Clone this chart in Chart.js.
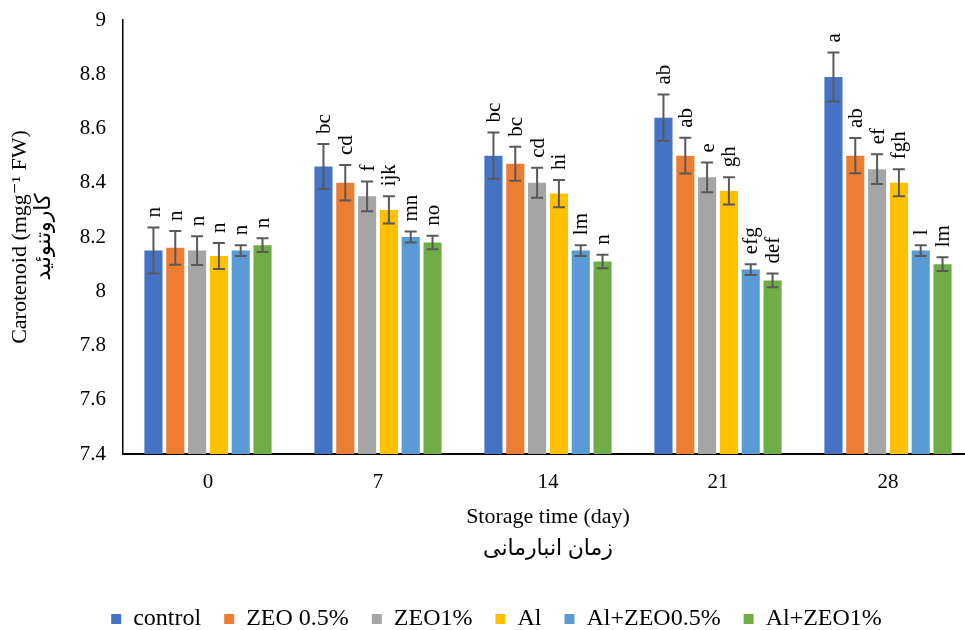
<!DOCTYPE html>
<html>
<head>
<meta charset="utf-8">
<script src="https://cdn.jsdelivr.net/npm/chart.js@4.4.1/dist/chart.umd.min.js"></script>
<style>
  html, body { margin: 0; padding: 0; background: #fff; overflow: hidden; }
  #wrap { width: 973px; height: 630px; }
</style>
</head>
<body>
<div id="wrap"><canvas id="carotenoidChart" width="973" height="630"></canvas></div>
<script>
// storage days
const categories = ["0", "7", "14", "21", "28"];
const yTicks = [7.4, 7.6, 7.8, 8, 8.2, 8.4, 8.6, 8.8, 9];

// mean carotenoid per treatment
const control = [8.15, 8.46, 8.50, 8.64, 8.79];
const zeo05 = [8.16, 8.40, 8.47, 8.50, 8.50];
const zeo1 = [8.15, 8.35, 8.40, 8.42, 8.45];
const al = [8.13, 8.30, 8.36, 8.37, 8.40];
const alZeo05 = [8.15, 8.20, 8.15, 8.08, 8.15];
const alZeo1 = [8.17, 8.18, 8.11, 8.04, 8.10];

// error bars (+/-)
const controlErr = [0.085, 0.083, 0.085, 0.085, 0.09];
const zeo05Err = [0.062, 0.065, 0.063, 0.066, 0.065];
const zeo1Err = [0.053, 0.055, 0.055, 0.055, 0.055];
const alErr = [0.048, 0.05, 0.05, 0.05, 0.05];
const alZeo05Err = [0.02, 0.02, 0.02, 0.02, 0.02];
const alZeo1Err = [0.025, 0.025, 0.025, 0.025, 0.025];

// significance letters
const controlLetters = ["n", "bc", "bc", "ab", "a"];
const zeo05Letters = ["n", "cd", "bc", "ab", "ab"];
const zeo1Letters = ["n", "f", "cd", "e", "ef"];
const alLetters = ["n", "ijk", "hi", "gh", "fgh"];
const alZeo05Letters = ["n", "mn", "lm", "efg", "l"];
const alZeo1Letters = ["n", "no", "n", "def", "lm"];

const serif = "'Liberation Serif', 'Times New Roman', 'DejaVu Sans', serif";

function makeSet(label, data, err, letters, color) {
  return {
    label: label,
    data: data,
    errors: err,
    letters: letters,
    backgroundColor: color,
    borderWidth: 0,
    barPercentage: 0.83,
    categoryPercentage: 0.77,
  };
}

// draws the error bars and the rotated letters above each bar
const errorBarPlugin = {
  id: "errorBars",
  afterDatasetsDraw(chart) {
    const ctx = chart.ctx;
    const yScale = chart.scales.y;
    chart.data.datasets.forEach((ds, i) => {
      const meta = chart.getDatasetMeta(i);
      meta.data.forEach((bar, j) => {
        const v = ds.data[j];
        const e = ds.errors[j];
        const top = yScale.getPixelForValue(v + e);
        const bottom = yScale.getPixelForValue(v - e);
        const x = bar.x;
        ctx.save();
        ctx.strokeStyle = "#595959";
        ctx.lineWidth = 2;
        ctx.beginPath();
        ctx.moveTo(x, top);
        ctx.lineTo(x, bottom);
        ctx.moveTo(x - 6, top);
        ctx.lineTo(x + 6, top);
        ctx.moveTo(x - 6, bottom);
        ctx.lineTo(x + 6, bottom);
        ctx.stroke();

        ctx.translate(x + 1, top - 10);
        ctx.rotate(-Math.PI / 2);
        ctx.fillStyle = "#000";
        ctx.font = "21px " + serif;
        ctx.textAlign = "left";
        ctx.textBaseline = "middle";
        ctx.fillText(ds.letters[j], 0, 0);
        ctx.restore();
      });
    });
  },
};

// nudges the legend right so it sits like in the original
const legendShift = {
  id: "legendShift",
  afterLayout(chart) {
    if (chart.legend) {
      chart.legend.left += 10;
      chart.legend.right += 10;
    }
  },
};

const ctx = document.getElementById("carotenoidChart").getContext("2d");
new Chart(ctx, {
  type: "bar",
  data: {
    labels: categories,
    datasets: [
      makeSet("control", control, controlErr, controlLetters, "#4472C4"),
      makeSet("ZEO 0.5%", zeo05, zeo05Err, zeo05Letters, "#ED7D31"),
      makeSet("ZEO1%", zeo1, zeo1Err, zeo1Letters, "#A5A5A5"),
      makeSet("Al", al, alErr, alLetters, "#FFC000"),
      makeSet("Al+ZEO0.5%", alZeo05, alZeo05Err, alZeo05Letters, "#5B9BD5"),
      makeSet("Al+ZEO1%", alZeo1, alZeo1Err, alZeo1Letters, "#70AD47"),
    ],
  },
  options: {
    responsive: false,
    animation: false,
    layout: { padding: { top: 0, left: 0, right: 0, bottom: -11 } },
    plugins: {
      tooltip: { enabled: false },
      legend: {
        position: "bottom",
        labels: {
          boxWidth: 10,
          boxHeight: 10,
          padding: 23,
          color: "#000",
          font: { family: serif, size: 24 },
        },
      },
    },
    scales: {
      x: {
        grid: { display: false, drawTicks: false },
        border: { display: true, color: "#000", width: 2 },
        ticks: { color: "#000", padding: 16, font: { family: serif, size: 21 } },
        title: {
          display: true,
          text: ["Storage time (day)", "زمان انبارمانی"],
          color: "#000",
          font: { family: serif, size: 22, lineHeight: 1.45 },
          padding: { top: 0, bottom: 19 },
        },
        afterFit(scale) {
          scale.height = 130;
        },
      },
      y: {
        min: 7.4,
        max: 9,
        afterBuildTicks(scale) {
          scale.ticks = yTicks.map((v) => ({ value: v }));
        },
        grid: { display: false, drawTicks: false },
        border: { display: true, color: "#000", width: 1.5 },
        ticks: {
          color: "#000",
          padding: 17,
          font: { family: serif, size: 21 },
          callback: (value) => String(Number(value.toFixed(1))),
        },
        title: {
          display: true,
          text: ["Carotenoid (mgg⁻¹ FW)", "کاروتنوئید"],
          color: "#000",
          font: { family: serif, size: 22, lineHeight: 1.1 },
          padding: { top: 8, bottom: 0 },
        },
        afterFit(scale) {
          scale.width = 123;
          scale.paddingTop = 20;
          scale.paddingBottom = 0;
        },
      },
    },
  },
  plugins: [errorBarPlugin, legendShift],
});
</script>
</body>
</html>
